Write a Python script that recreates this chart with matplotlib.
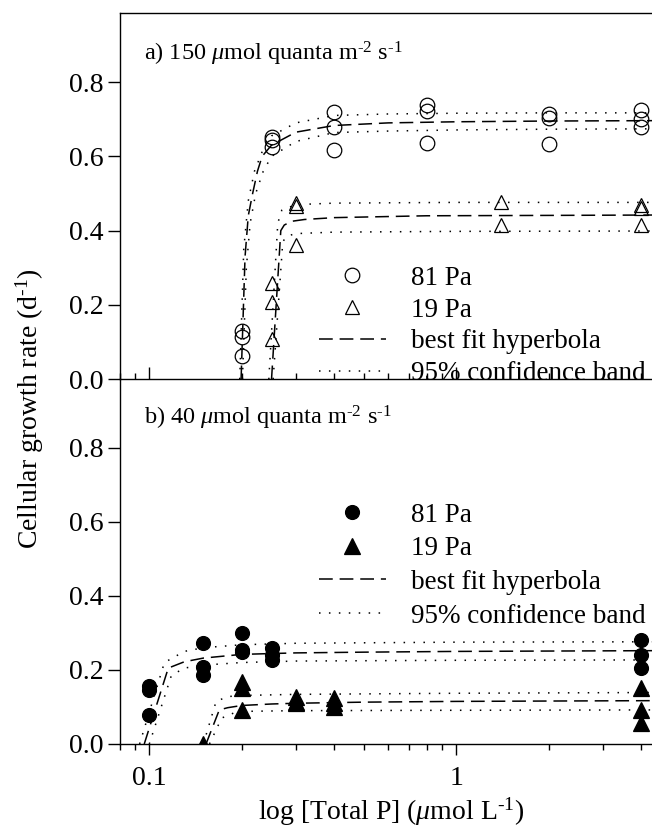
import numpy as np
import matplotlib.pyplot as plt
from matplotlib.ticker import FixedLocator, LogLocator, NullFormatter, FormatStrFormatter

plt.rcParams['font.family'] = 'Liberation Serif'
plt.rcParams['mathtext.fontset'] = 'custom'
plt.rcParams['mathtext.rm'] = 'Liberation Serif'
plt.rcParams['mathtext.it'] = 'Liberation Serif:italic'

# ---- panel a) 150 umol quanta, measured growth rates
p81_a = [0.2, 0.2, 0.2, 0.25, 0.25, 0.25, 0.4, 0.4, 0.4, 0.8, 0.8, 0.8, 2, 2, 2, 4, 4, 4]
mu81_a = [0.13, 0.115, 0.063, 0.653, 0.644, 0.626, 0.718, 0.678, 0.617,
          0.738, 0.722, 0.636, 0.713, 0.703, 0.632, 0.725, 0.700, 0.680]
p19_a = [0.25, 0.25, 0.25, 0.3, 0.3, 0.3, 1.4, 1.4, 4, 4, 4]
mu19_a = [0.258, 0.209, 0.108, 0.475, 0.466, 0.36, 0.476, 0.415, 0.468, 0.460, 0.415]

# fitted curves (a)
fit81_a_x = [0.199, 0.205, 0.21, 0.217, 0.225, 0.233, 0.25, 0.3, 0.4, 0.6, 1.0, 2.0, 4.33]
fit81_a_y = [0.0, 0.33, 0.44, 0.50, 0.56, 0.60, 0.63, 0.665, 0.683, 0.69, 0.693, 0.695, 0.696]
up81_a_x = [0.197, 0.203, 0.21, 0.22, 0.235, 0.25, 0.3, 0.4, 0.6, 1.0, 2.0, 4.33]
up81_a_y = [0.0, 0.35, 0.48, 0.56, 0.62, 0.655, 0.69, 0.71, 0.714, 0.716, 0.717, 0.717]
lo81_a_x = [0.201, 0.207, 0.213, 0.222, 0.235, 0.25, 0.3, 0.4, 0.6, 1.0, 2.0, 4.33]
lo81_a_y = [0.0, 0.30, 0.42, 0.50, 0.56, 0.60, 0.64, 0.664, 0.668, 0.671, 0.673, 0.674]

fit19_a_x = [0.25, 0.268, 0.275, 0.29, 0.32, 0.4, 0.8, 2.0, 4.33]
fit19_a_y = [0.0, 0.40, 0.415, 0.425, 0.43, 0.435, 0.44, 0.441, 0.442]
up19_a_x = [0.245, 0.262, 0.27, 0.3, 0.4, 1.0, 4.33]
up19_a_y = [0.0, 0.42, 0.455, 0.47, 0.474, 0.476, 0.476]
lo19_a_x = [0.253, 0.272, 0.28, 0.3, 0.4, 1.0, 4.33]
lo19_a_y = [0.0, 0.37, 0.385, 0.392, 0.396, 0.398, 0.399]

# ---- panel b) 40 umol quanta
p81_b = [0.1, 0.1, 0.1, 0.15, 0.15, 0.15, 0.2, 0.2, 0.2, 0.25, 0.25, 0.25, 4, 4, 4]
mu81_b = [0.157, 0.146, 0.078, 0.272, 0.209, 0.186, 0.299, 0.254, 0.249,
          0.259, 0.24, 0.227, 0.281, 0.241, 0.205]
p19_b = [0.15, 0.2, 0.2, 0.2, 0.3, 0.3, 0.3, 0.4, 0.4, 0.4, 4, 4, 4]
mu19_b = [0.0, 0.168, 0.15, 0.092, 0.128, 0.114, 0.11, 0.124, 0.112, 0.101, 0.15, 0.092, 0.058]

fit81_b_x = [0.0963, 0.1153, 0.13, 0.15, 0.2, 0.3, 0.5, 1.0, 2.0, 4.33]
fit81_b_y = [0.0, 0.205, 0.222, 0.232, 0.242, 0.246, 0.248, 0.25, 0.251, 0.252]
up81_b_x = [0.093, 0.112, 0.13, 0.15, 0.2, 0.3, 1.0, 4.33]
up81_b_y = [0.0, 0.22, 0.25, 0.26, 0.268, 0.272, 0.275, 0.276]
lo81_b_x = [0.1, 0.118, 0.13, 0.15, 0.2, 0.3, 1.0, 4.33]
lo81_b_y = [0.0, 0.185, 0.205, 0.213, 0.22, 0.224, 0.226, 0.227]

fit19_b_x = [0.153, 0.169, 0.18, 0.2, 0.25, 0.3, 0.5, 1.0, 2.0, 4.33]
fit19_b_y = [0.0, 0.092, 0.098, 0.104, 0.108, 0.11, 0.113, 0.115, 0.116, 0.117]
up19_b_x = [0.15, 0.165, 0.18, 0.2, 0.3, 1.0, 4.33]
up19_b_y = [0.0, 0.115, 0.128, 0.131, 0.134, 0.137, 0.139]
lo19_b_x = [0.157, 0.172, 0.19, 0.2, 0.3, 1.0, 4.33]
lo19_b_y = [0.0, 0.07, 0.085, 0.088, 0.09, 0.091, 0.092]

yticks = [0.0, 0.2, 0.4, 0.6, 0.8]
FS = 20
DASH = (0, (9, 4.5))
DOT = (0, (1, 5.5))


def draw_panel(ax, filled, pts, fits, title, title_y, leg_anchor, leg_space):
    p81, mu81, p19, mu19 = pts
    fc = 'k' if filled else 'none'
    h1, = ax.plot(p81, mu81, 'o', ms=10.5 if not filled else 10, mfc=fc, mec='k', mew=0.9,
                  ls='none', label='81 Pa', zorder=3)
    h2, = ax.plot(p19, mu19, '^', ms=10.5 if not filled else 11, mfc=fc, mec='k', mew=0.9,
                  ls='none', label='19 Pa', zorder=3)
    for (fx, fy), (ux, uy), (lx, ly) in fits:
        hf, = ax.plot(fx, fy, color='k', ls=DASH, lw=1.1, label='best fit hyperbola')
        hb, = ax.plot(ux, uy, color='k', ls=DOT, lw=1.1, label='95% confidence band')
        ax.plot(lx, ly, color='k', ls=DOT, lw=1.1)

    ax.set_xscale('log')
    ax.set_xlim(0.08, 4.33)
    ax.set_ylim(0, 0.985)
    ax.set_yticks(yticks)
    ax.yaxis.set_major_formatter(FormatStrFormatter('%.1f'))
    ax.xaxis.set_major_locator(FixedLocator([0.1, 1]))
    ax.xaxis.set_minor_locator(LogLocator(base=10, subs=np.arange(2, 10)))
    ax.xaxis.set_minor_formatter(NullFormatter())
    ax.set_xticklabels(['0.1', '1'])
    ax.spines['right'].set_visible(False)
    for s in ax.spines.values():
        s.set_linewidth(1.0)
    ax.tick_params(axis='y', direction='out', length=8.6, width=1, labelsize=FS, pad=3)

    ax.text(0.046, title_y, title, transform=ax.transAxes,
            fontsize=17.5, ha='left', va='baseline')
    ax.legend(handles=[h1, h2, hf, hb], loc='upper left', bbox_to_anchor=leg_anchor,
              frameon=False, borderpad=0, borderaxespad=0, handlelength=2.45,
              handletextpad=0.95, labelspacing=leg_space, fontsize=19.5, numpoints=1)


fig = plt.figure(figsize=(6.52, 8.35), dpi=100)
ax1 = fig.add_axes([0.1833, 0.5458, 0.8167, 0.4383])
ax2 = fig.add_axes([0.1833, 0.1090, 0.8167, 0.4368])
ax1.set_zorder(2)
ax1.patch.set_visible(False)

draw_panel(ax1, False, (p81_a, mu81_a, p19_a, mu19_a),
           [((fit81_a_x, fit81_a_y), (up81_a_x, up81_a_y), (lo81_a_x, lo81_a_y)),
            ((fit19_a_x, fit19_a_y), (up19_a_x, up19_a_y), (lo19_a_x, lo19_a_y))],
           r'a) 150 $\mu$mol quanta m$^{\text{-2}}$ s$^{\text{-1}}$', 0.872, (0.375, 0.31), 0.25)
draw_panel(ax2, True, (p81_b, mu81_b, p19_b, mu19_b),
           [((fit81_b_x, fit81_b_y), (up81_b_x, up81_b_y), (lo81_b_x, lo81_b_y)),
            ((fit19_b_x, fit19_b_y), (up19_b_x, up19_b_y), (lo19_b_x, lo19_b_y))],
           r'b) 40 $\mu$mol quanta m$^{\text{-2}}$ s$^{\text{-1}}$', 0.875, (0.375, 0.662), 0.32)

ax1.tick_params(axis='x', which='major', direction='in', length=8.5, width=1, labelbottom=False)
ax1.tick_params(axis='x', which='minor', direction='in', length=4.5, width=1)
ax2.spines['top'].set_visible(False)
ax2.tick_params(axis='x', which='major', direction='out', length=8, width=1, labelsize=FS, pad=8)
ax2.tick_params(axis='x', which='minor', direction='out', length=4, width=1)

fig.text(0.046, 0.511, r'Cellular growth rate (d$^{\text{-1}}$)', rotation=90, fontsize=FS,
         ha='center', va='center')
fig.text(0.6, 0.0275, r'log [Total P] ($\mu$mol L$^{\text{-1}}$)', fontsize=FS, ha='center', va='center')

fig.savefig('out.png', dpi=100)
